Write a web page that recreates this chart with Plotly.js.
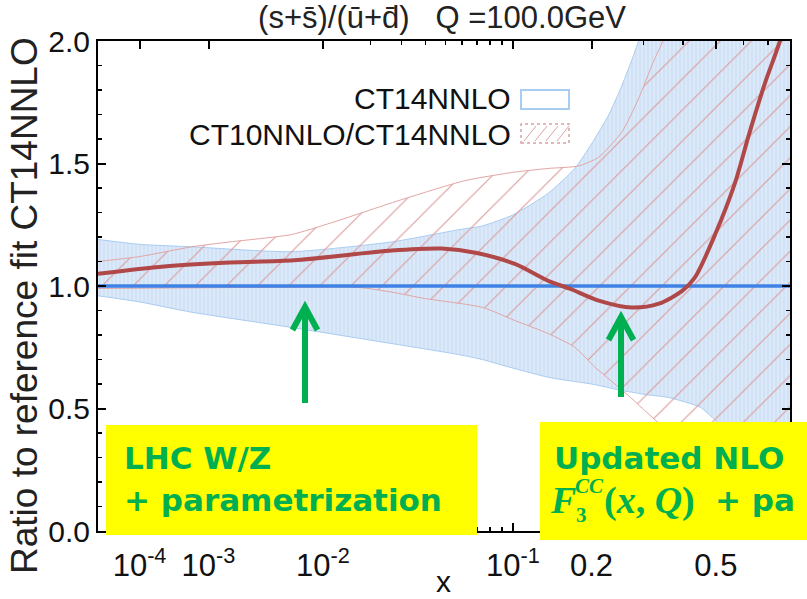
<!DOCTYPE html>
<html><head><meta charset="utf-8">
<script src="https://cdn.plot.ly/plotly-3.0.1.min.js"></script>
<style>html,body{margin:0;padding:0;background:#fff}#chart{width:807px;height:599px}</style>
</head><body><div id="chart"></div>
<script>
// ---- data (x values in Bjorken x, y = ratio) ----
const xBlue = [1e-5, 1e-4, 6.3e-4, 5.9e-3, 0.0265, 0.058, 0.074, 0.1, 0.139, 0.174, 0.2, 0.23, 0.255, 0.28, 0.3, 0.36, 0.45, 0.5, 0.6, 0.7, 0.8];
const blueUpper = [1.19, 1.17, 1.16, 1.14, 1.18, 1.23, 1.245, 1.29, 1.38, 1.48, 1.58, 1.70, 1.82, 1.95, 2.06, 2.45, 3.0, 3.3, 3.9, 4.4, 5.0];
const blueLower = [0.96, 0.935, 0.893, 0.831, 0.765, 0.72, 0.70, 0.665, 0.627, 0.61, 0.60, 0.585, 0.573, 0.565, 0.558, 0.545, 0.505, 0.45, 0.35, 0.25, 0.15];

const xHatchUp = [1e-5, 1e-4, 6.3e-4, 1.7e-3, 5.9e-3, 0.0114, 0.029, 0.0618, 0.102, 0.139, 0.18, 0.212, 0.255, 0.288, 0.324, 0.346, 0.4, 0.5, 0.8];
const hatchUpper = [1.10, 1.12, 1.16, 1.18, 1.21, 1.258, 1.349, 1.43, 1.465, 1.48, 1.49, 1.526, 1.63, 1.76, 1.92, 2.0, 2.3, 2.8, 4.0];
const xHatchLo = [1e-5, 1e-3, 5.9e-3, 0.0171, 0.0265, 0.0396, 0.074, 0.102, 0.139, 0.174, 0.206, 0.241, 0.275, 0.31, 0.35, 0.45, 0.6, 0.8];
const hatchLower = [0.99, 0.993, 0.995, 0.994, 0.975, 0.949, 0.913, 0.859, 0.805, 0.75, 0.668, 0.60, 0.54, 0.48, 0.42, 0.30, 0.15, 0.05];

const xRef = [1e-5, 0.8];
const yRef = [1, 1];

const xRed = [1e-5, 2.6e-4, 1.7e-3, 6.2e-3, 0.0265, 0.048, 0.07, 0.102, 0.139, 0.166, 0.212, 0.275, 0.336, 0.397, 0.434, 0.4975, 0.567, 0.621, 0.687, 0.749, 0.8];
const yRed = [1.05, 1.08, 1.096, 1.105, 1.145, 1.153, 1.135, 1.09, 1.02, 0.99, 0.94, 0.912, 0.928, 0.98, 1.035, 1.21, 1.42, 1.62, 1.83, 1.99, 2.15];

const xTickVals = [1e-4, 1e-3, 1e-2, 0.1, 0.2, 0.5];
const xTickText = ['10<sup>-4</sup>', '10<sup>-3</sup>', '10<sup>-2</sup>', '10<sup>-1</sup>', '0.2', '0.5'];
const xMinorVals = [0.02, 0.03, 0.04, 0.05, 0.06, 0.07, 0.08, 0.09, 0.3, 0.4, 0.6, 0.7];
const yTickVals = [0, 0.5, 1.0, 1.5, 2.0];
const yTickText = ['0.0', '0.5', '1.0', '1.5', '2.0'];
const xRange = [1e-5, 0.8];

const seriesNames = ['CT14NNLO', 'CT10NNLO/CT14NNLO'];
const titleText = '(s+s\u0304)/(u\u0304+d\u0304)   Q =100.0GeV';
const yTitle = 'Ratio to reference fit CT14NNLO';
const xTitle = 'x';

// ---- x-axis power scale (x^0.22) ----
const POW = 0.22;
const T = v => Math.pow(v, POW);

// pixel -> paper helpers for decorations
const L = 98, R = 790, TOP = 41, BOT = 531;
const X = px => (px - L) / (R - L);
const Y = py => (BOT - py) / (BOT - TOP);

const sans = 'Liberation Sans, Arial, sans-serif';
const bold = 'DejaVu Sans, Verdana, sans-serif';
const serif = 'Liberation Serif, Times New Roman, serif';
const green = '#00b050';

const traces = [
  {x: xBlue.map(T), y: blueLower, mode: 'lines', line: {color: '#a9ccf3', width: 1, shape: 'spline', smoothing: 0.6}, showlegend: false, hoverinfo: 'skip'},
  {x: xBlue.map(T), y: blueUpper, mode: 'lines', line: {color: '#a9ccf3', width: 1, shape: 'spline', smoothing: 0.6}, fill: 'tonexty', fillcolor: '#dae8f9',
   fillpattern: {shape: '|', bgcolor: '#dbe9f9', fgcolor: '#cadcf3', size: 4, solidity: 0.25}, name: seriesNames[0], showlegend: false, hoverinfo: 'skip'},
  {x: xHatchLo.map(T), y: hatchLower, mode: 'lines', line: {color: '#e2a5a5', width: 1, shape: 'spline', smoothing: 0.6}, showlegend: false, hoverinfo: 'skip'},
  {x: xHatchUp.map(T), y: hatchUpper, mode: 'lines', line: {color: '#e2a5a5', width: 1, shape: 'spline', smoothing: 0.6}, fill: 'tonexty', fillcolor: 'rgba(0,0,0,0)',
   fillpattern: {shape: '/', bgcolor: 'rgba(0,0,0,0)', fgcolor: '#dc9a9a', size: 22, solidity: 0.05}, name: seriesNames[1], showlegend: false, hoverinfo: 'skip'},
  {x: xRef.map(T), y: yRef, mode: 'lines', line: {color: '#3f82e6', width: 3.5}, showlegend: false, hoverinfo: 'skip'},
  {x: xRed.map(T), y: yRed, mode: 'lines', line: {color: '#b04848', width: 4, shape: 'spline', smoothing: 0.8}, showlegend: false, hoverinfo: 'skip'}
];

const axisCommon = {
  showline: true, linewidth: 2, linecolor: '#000', mirror: 'allticks',
  ticks: 'inside', ticklen: 8, tickwidth: 2, tickcolor: '#000',
  showgrid: false, zeroline: false,
  tickfont: {family: sans, size: 30, color: '#111'}
};

function arrowPath(x, tip) {
  return `M${X(x - 12.5)},${Y(tip + 23)} L${X(x)},${Y(tip)} L${X(x + 12.5)},${Y(tip + 23)}`;
}

const shapes = [
  // yellow boxes
  {type: 'rect', xref: 'paper', yref: 'paper', x0: X(106), x1: X(477), y0: Y(535), y1: Y(425), fillcolor: '#ffff00', line: {width: 0}, layer: 'above'},
  {type: 'rect', xref: 'paper', yref: 'paper', x0: X(540), x1: X(830), y0: Y(540), y1: Y(422), fillcolor: '#ffff00', line: {width: 0}, layer: 'above'},
  // arrows
  {type: 'line', xref: 'paper', yref: 'paper', x0: X(305), x1: X(305), y0: Y(403), y1: Y(311), line: {color: green, width: 6}, layer: 'above'},
  {type: 'path', xref: 'paper', yref: 'paper', path: arrowPath(305, 307), line: {color: green, width: 6}, layer: 'above'},
  {type: 'line', xref: 'paper', yref: 'paper', x0: X(621), x1: X(621), y0: Y(397), y1: Y(321), line: {color: green, width: 6}, layer: 'above'},
  {type: 'path', xref: 'paper', yref: 'paper', path: arrowPath(621, 317), line: {color: green, width: 6}, layer: 'above'},
  // legend swatches
  {type: 'rect', xref: 'paper', yref: 'paper', x0: X(521), x1: X(569), y0: Y(109), y1: Y(90), fillcolor: '#ffffff', line: {color: '#a9ccf3', width: 2}, layer: 'above'},
  {type: 'rect', xref: 'paper', yref: 'paper', x0: X(521), x1: X(569), y0: Y(143), y1: Y(124), fillcolor: '#ffffff', line: {color: '#d9a0a0', width: 1.5, dash: 'dot'}, layer: 'above'}
];
for (let k = 0; k < 4; k++) {
  const x0 = 524 + 11 * k;
  shapes.push({type: 'line', xref: 'paper', yref: 'paper', x0: X(x0), x1: X(x0 + 12), y0: Y(141), y1: Y(126), line: {color: '#dca4a4', width: 1}, layer: 'above'});
}

const ann = (text, px, py, opts) => Object.assign({text, xref: 'paper', yref: 'paper', x: X(px), y: Y(py), showarrow: false, xanchor: 'left', yanchor: 'middle', borderpad: 0}, opts);

const annotations = [
  ann(seriesNames[0], 512, 99, {xanchor: 'right', font: {family: sans, size: 30, color: '#111'}}),
  ann(seriesNames[1], 512, 134, {xanchor: 'right', font: {family: sans, size: 30, color: '#111'}}),
  ann(yTitle, 24, 306, {xanchor: 'center', textangle: -90, font: {family: sans, size: 37, color: '#222'}}),
  ann(xTitle, 443, 581, {xanchor: 'center', font: {family: sans, size: 30, color: '#111'}}),
  ann('LHC W/Z', 123, 458, {font: {family: bold, size: 31, color: green, weight: 700}}),
  ann('+ parametrization', 123, 500, {font: {family: bold, size: 31, color: green, weight: 700}}),
  ann('Updated NLO', 553, 458, {font: {family: bold, size: 31, color: green, weight: 700}}),
  ann('<i>F</i>', 549, 500, {font: {family: serif, size: 38, color: green, weight: 700}}),
  ann('<i>CC</i>', 574, 486, {font: {family: serif, size: 21, color: green, weight: 700}}),
  ann('3', 575, 515, {font: {family: serif, size: 21, color: green, weight: 700}}),
  ann('(<i>x</i>, <i>Q</i>)', 603, 500, {font: {family: serif, size: 38, color: green, weight: 700}}),
  ann('+ pa', 714, 500, {font: {family: bold, size: 31, color: green, weight: 700}})
];

const layout = {
  width: 807, height: 599,
  margin: {l: L, r: 807 - R, t: TOP, b: 599 - BOT, pad: 0},
  paper_bgcolor: '#fff', plot_bgcolor: '#fff',
  showlegend: false,
  title: {text: titleText, font: {family: sans, size: 31, color: '#222'}, xref: 'paper', x: X(442), xanchor: 'center', yref: 'container', y: 1 - 17 / 599, yanchor: 'middle'},
  xaxis: Object.assign({}, axisCommon, {
    type: 'linear', range: xRange.map(T),
    tickmode: 'array', tickvals: xTickVals.map(T), ticktext: xTickText,
    ticklabelstandoff: 6,
    tickfont: {family: sans, size: 31, color: '#111'},
    minor: {tickmode: 'array', tickvals: xMinorVals.map(T), ticks: 'inside', ticklen: 4, tickwidth: 1.5, tickcolor: '#000'}
  }),
  yaxis: Object.assign({}, axisCommon, {
    range: [0, 2], tickmode: 'array', tickvals: yTickVals, ticktext: yTickText,
    minor: {dtick: 0.1, ticks: 'inside', ticklen: 4, tickwidth: 1.5, tickcolor: '#000'}
  }),
  shapes, annotations
};

Plotly.newPlot('chart', traces, layout, {displayModeBar: false, staticPlot: true});
</script></body></html>
